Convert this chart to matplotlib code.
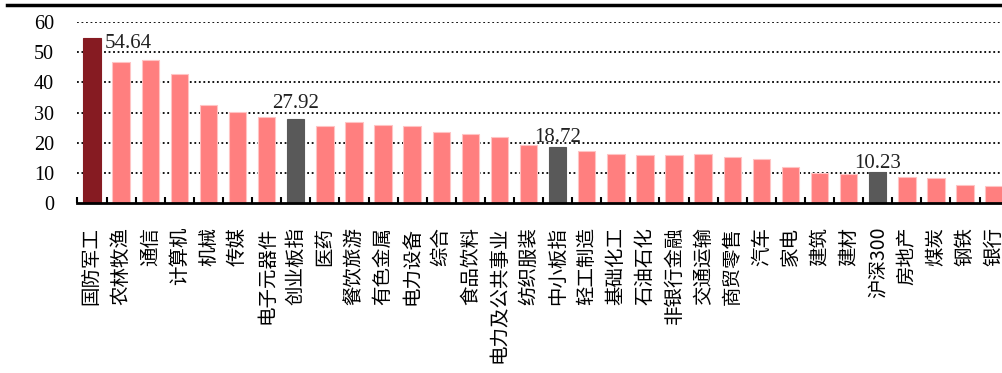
import matplotlib
matplotlib.use("Agg")
import matplotlib.pyplot as plt
from matplotlib.lines import Line2D

# data
industries = ["国防军工", "农林牧渔", "通信", "计算机", "机械", "传媒", "电子元器件", "创业板指",
              "医药", "餐饮旅游", "有色金属", "电力设备", "综合", "食品饮料", "电力及公共事业",
              "纺织服装", "中小板指", "轻工制造", "基础化工", "石油石化", "非银行金融", "交通运输",
              "商贸零售", "汽车", "家电", "建筑", "建材", "沪深300", "房地产", "煤炭", "钢铁", "银行"]
pe_values = [54.64, 46.9, 47.5, 42.8, 32.5, 30.1, 28.6, 27.92,
             25.7, 26.9, 25.9, 25.6, 23.6, 22.8, 22.0,
             19.3, 18.72, 17.4, 16.4, 16.0, 16.0, 16.3,
             15.2, 14.6, 12.0, 10.0, 9.7, 10.23, 8.7, 8.3, 6.0, 5.7]
index_names = ["创业板指", "中小板指", "沪深300"]
top_name = "国防军工"
y_ticks = [0, 10, 20, 30, 40, 50, 60]

pink = "#FF7F7F"
dark_red = "#861B22"
gray = "#595959"

W, H = 1003, 373
fig = plt.figure(figsize=(W / 100, H / 100), dpi=100)

# axes placed in pixel terms
x0, y0_px, y60_px, step = 77.5, 203.3, 22.0, 29.1
ax = fig.add_axes([x0 / W, (H - y0_px) / H, 32 * step / W, (y0_px - y60_px) / H])

colors = []
for name in industries:
    if name == top_name:
        colors.append(dark_red)
    elif name in index_names:
        colors.append(gray)
    else:
        colors.append(pink)
edges = ["#FFC4C4" if c == pink else c for c in colors]

x = list(range(len(industries)))
ax.bar(x, pe_values, width=0.6, color=colors, edgecolor=edges, linewidth=0.8, zorder=3)

ax.set_xlim(-0.5, len(industries) - 0.5)
ax.set_ylim(0, 60)
ax.set_yticks(y_ticks)
ax.set_yticklabels([str(v) for v in y_ticks], family="Liberation Serif", fontsize=14.5)
ax.tick_params(axis="y", length=0, pad=17)

# category labels, ticks between bars
ax.set_xticks(x)
ax.set_xticklabels(industries, rotation=90, ha="center", va="top",
                   family=["Noto Sans CJK SC", "DejaVu Sans"], fontsize=14)
ax.set_xticks([i - 0.5 for i in range(len(industries) + 1)], minor=True)
ax.tick_params(axis="x", which="minor", direction="in", length=4, width=1.5, color="black")
ax.tick_params(axis="x", which="major", length=0, pad=17)

for y in y_ticks[1:]:
    ax.axhline(y, color="black", linestyle=(0, (1, 1.5)), linewidth=1.3, zorder=1)

for side in ["top", "right", "left"]:
    ax.spines[side].set_visible(False)
ax.spines["bottom"].set_linewidth(2)
ax.spines["bottom"].set_zorder(4)

# value labels
label_font = dict(family="Liberation Serif", fontsize=15, color="#222222")
i_top = industries.index(top_name)
ax.annotate(f"{pe_values[i_top]:.2f}", (i_top + 0.3, pe_values[i_top]), xytext=(3, -7),
            textcoords="offset points", ha="left", va="baseline", **label_font)
label_offsets = [8, 3.5, 3.5]
for name, off in zip(index_names, label_offsets):
    i = industries.index(name)
    ax.annotate(f"{pe_values[i]:.2f}", (i, pe_values[i]), xytext=(0, off),
                textcoords="offset points", ha="center", va="baseline", **label_font)

# thick rule across the top of the figure
fig.add_artist(Line2D([7 / W, 1], [1 - 4.5 / H, 1 - 4.5 / H], color="black", linewidth=2.5,
                      transform=fig.transFigure))

fig.savefig("out.png", dpi=100)
